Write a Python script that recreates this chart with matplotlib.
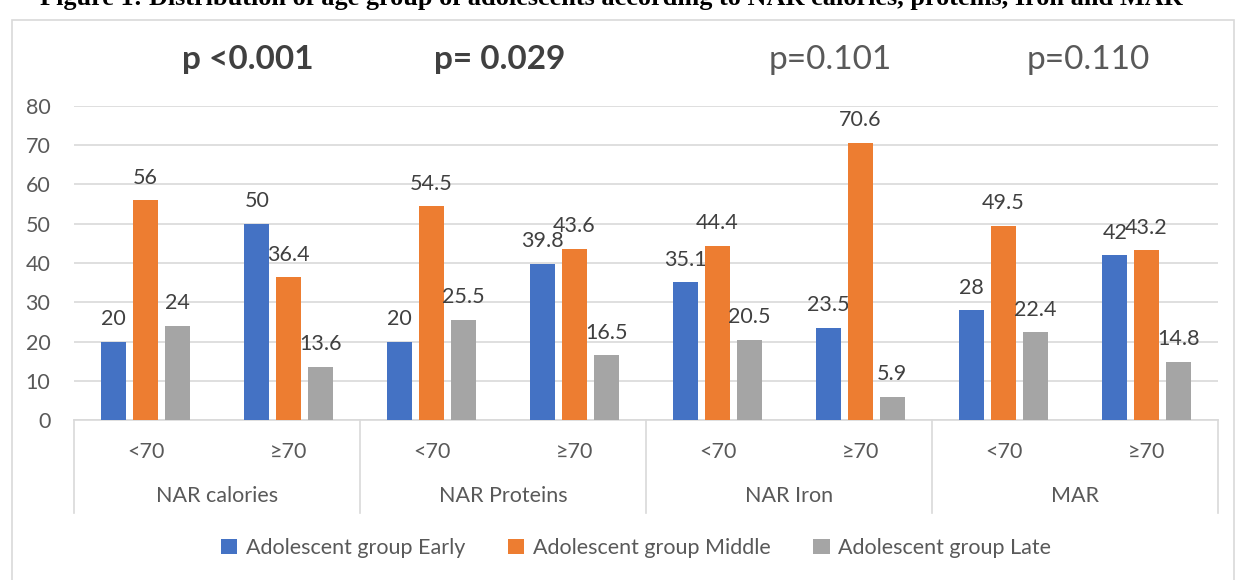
import matplotlib.pyplot as plt
from matplotlib.patches import Rectangle
from matplotlib.lines import Line2D

# data
groups = ["NAR calories", "NAR Proteins", "NAR Iron", "MAR"]
levels = ["<70", "\u226570"]
series = ["Adolescent group Early", "Adolescent group Middle", "Adolescent group Late"]
early = [20, 50, 20, 39.8, 35.1, 23.5, 28, 42]
middle = [56, 36.4, 54.5, 43.6, 44.4, 70.6, 49.5, 43.2]
late = [24, 13.6, 25.5, 16.5, 20.5, 5.9, 22.4, 14.8]
pvals = ["p <0.001", "p= 0.029", "p=0.101", "p=0.110"]
pbold = [True, True, False, False]
title = "Figure 1: Distribution of age group of adolescents according to NAR calories, proteins, Iron and MAR"

colors = ["#4472C4", "#ED7D31", "#A5A5A5"]
txt = "#595959"
grid = "#D9D9D9"
W, H = 1236, 580
fs = 15.5

plt.rcParams['font.family'] = ['Lato', 'DejaVu Sans']

fig = plt.figure(figsize=(W / 100, H / 100), dpi=100)

# chart frame
fig.patches.append(Rectangle((12 / W, -0.1), (1234 - 12) / W, 1.1 - 20 / H,
                             transform=fig.transFigure, fill=False,
                             edgecolor=grid, lw=1.2))

# clipped caption at the very top
fig.text(40 / W, 1 - 5 / H, title, family='Liberation Serif', fontweight='bold',
         fontsize=18.9, color='black', ha='left', va='baseline')

left, right, y0, y80 = 74, 1218, 420, 106
ax = fig.add_axes([left / W, (H - y0) / H, (right - left) / W, (y0 - y80) / H])

n = len(early)
x = list(range(n))
bw, off = 0.175, 0.222
for k, vals in enumerate([early, middle, late]):
    xs = [i + (k - 1) * off for i in x]
    ax.bar(xs, vals, width=bw, color=colors[k], label=series[k], zorder=3)
    for xi, v in zip(xs, vals):
        ax.annotate(f"{v:g}", (xi, v), xytext=(0, 9), textcoords='offset points',
                    ha='center', va='bottom', fontsize=fs, color='#404040')

ax.set_xlim(-0.5, n - 0.5)
ax.set_ylim(0, 80)
ax.set_yticks(range(0, 81, 10))
ax.yaxis.grid(True, color=grid, lw=1.2, zorder=0)
ax.set_axisbelow(True)
for s in ["left", "right", "top"]:
    ax.spines[s].set_visible(False)
ax.spines["bottom"].set_color(grid)
ax.spines["bottom"].set_linewidth(1.2)
ax.tick_params(axis='y', length=0, labelsize=fs, labelcolor=txt, pad=17)
ax.set_xticks([])

# two-level category axis
hpx = y0 - y80
tr = ax.get_xaxis_transform()
for i in range(n):
    ax.text(i, -32 / hpx, levels[i % 2], transform=tr, ha='center', va='center',
            fontsize=fs, color=txt)
for g, name in enumerate(groups):
    ax.text(2 * g + 0.5, -76 / hpx, name, transform=tr, ha='center', va='center',
            fontsize=fs, color=txt)
for g in range(len(groups) + 1):
    ax.add_line(Line2D([2 * g - 0.5, 2 * g - 0.5], [0, -93 / hpx], transform=tr,
                       color=grid, lw=1.2, clip_on=False))

# p-values
px = [248, 500, 830, 1088]
for p, b, xp in zip(pvals, pbold, px):
    fig.text(xp / W, 1 - 60 / H, p, ha='center', va='center', fontsize=24,
             fontweight='bold' if b else 'normal', color='#404040' if b else txt)

handles, labels = ax.get_legend_handles_labels()
leg = fig.legend(handles, labels, loc='center', bbox_to_anchor=(636 / W, 1 - 548 / H),
                 ncol=3, frameon=False, fontsize=fs, handlelength=0.75, handleheight=0.75,
                 handletextpad=0.4, columnspacing=2.0)
for t in leg.get_texts():
    t.set_color(txt)

fig.savefig("out.png", dpi=100)
